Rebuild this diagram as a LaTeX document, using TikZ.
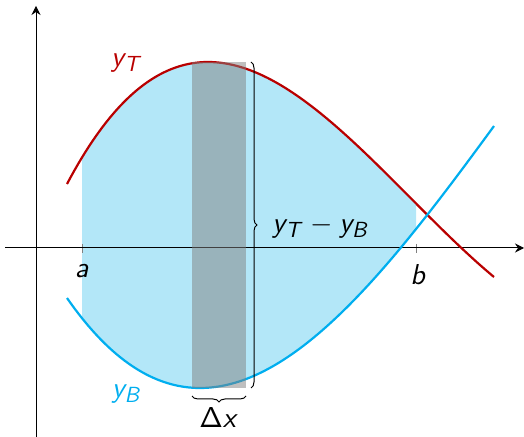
\documentclass[tikz,border=0pt]{standalone}
\usetikzlibrary{arrows.meta,decorations.pathreplacing}
\DeclareMathAlphabet{\mathsfit}{OT1}{cmss}{m}{sl}
\DeclareMathAlphabet{\mathsfup}{OT1}{cmss}{m}{n}
\definecolor{tred}{RGB}{185,0,0}
\definecolor{tblue}{RGB}{0,174,239}
\definecolor{tfill}{RGB}{179,231,248}
\tikzset{
  lab/.style={font=\fontsize{15}{18}\selectfont, inner sep=0pt},
  axis/.style={line width=0.5pt, -{Stealth[length=4.5pt,width=4.5pt,inset=1.5pt]}},
  curve/.style={line width=1.1pt},
  tick/.style={gray, line width=0.5pt},
  bracestyle/.style={decorate, decoration={brace, amplitude=3pt}, line width=0.5pt},
  declare function={
    yT(\u)=62+49.785*((\u-208)/100)^2-8.216*((\u-208)/100)^3;
    yB(\u)=388-44.47*((\u-200)/100)^2+4.817*((\u-200)/100)^3;
  }
}
\begin{document}
\begin{tikzpicture}[x=0.5pt,y=-0.5pt]
\useasboundingbox (0,0) rectangle (524,437);
% filled region
\fill[tfill] plot[domain=82:416, samples=80] (\x,{yT(\x)}) -- plot[domain=416:82, samples=80] (\x,{yB(\x)}) -- cycle;
% ticks
\coordinate (ta1) at (82,244); \coordinate (ta2) at (82,253);
\coordinate (tb1) at (416,244); \coordinate (tb2) at (416,253);
\draw[tick] (ta1) -- (ta2);
\draw[tick] (tb1) -- (tb2);
% axes
\coordinate (xs) at (5,248); \coordinate (xe) at (524,248);
\coordinate (ys) at (36,437); \coordinate (ye) at (36,6);
\draw[axis] (xs) -- (xe);
\draw[axis] (ys) -- (ye);
% curves
\draw[curve, tred] plot[domain=67:494, samples=120] (\x,{yT(\x)});
\draw[curve, tblue] plot[domain=67:494, samples=120] (\x,{yB(\x)});
% strip
\fill[gray, opacity=0.5] (192,62) rectangle (246,388);
% braces
\coordinate (r1) at (251,62); \coordinate (r2) at (251,388);
\draw[bracestyle] (r1) -- (r2);
\coordinate (d1) at (246,396); \coordinate (d2) at (192,396);
\draw[bracestyle] (d1) -- (d2);
% labels
\node[lab, tred] (lT) at (127,63) {$\mathsfit{y}_{\mathsfit{T}}$};
\node[lab, tblue] (lB) at (127,394) {$\mathsfit{y}_{\mathsfit{B}}$};
\node[lab, anchor=west] (diff) at (272,227) {$\mathsfit{y}_{\mathsfit{T}} - \mathsfit{y}_{\mathsfit{B}}$};
\node[lab] (dx) at (219,418) {$\mathsfup{\Delta}\mathsfit{x}$};
\node[lab, anchor=base] (la) at (82,278) {$\mathsfit{a}$};
\node[lab, anchor=base] (lb) at (418,285) {$\mathsfit{b}$};
\end{tikzpicture}
\end{document}
